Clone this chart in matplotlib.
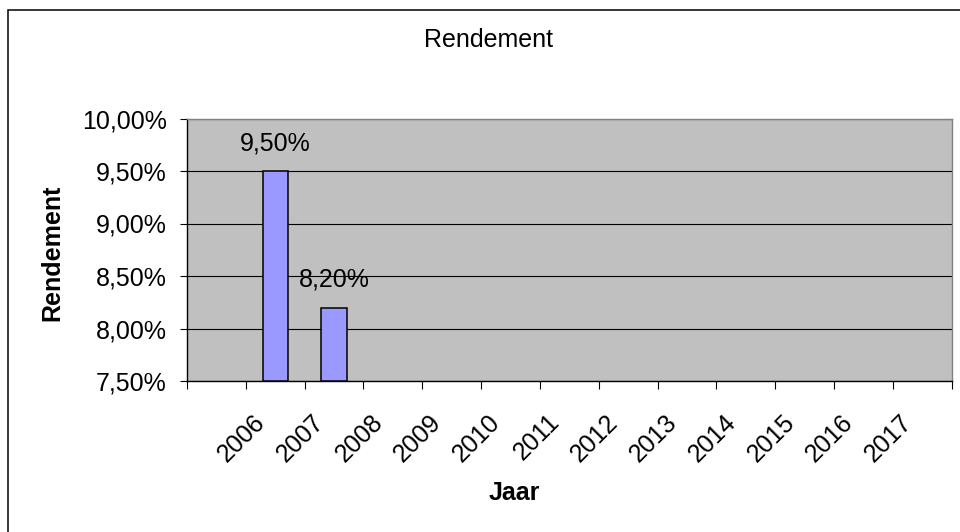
import matplotlib
matplotlib.use('Agg')
import matplotlib.pyplot as plt
import matplotlib.transforms as mtransforms
from matplotlib.patches import Rectangle
import numpy as np

# categories (first one is an empty category in the source sheet)
JAREN = ['', '2006', '2007', '2008', '2009', '2010', '2011', '2012',
         '2013', '2014', '2015', '2016', '2017']
RENDEMENT = [np.nan, 9.50, 8.20, np.nan, np.nan, np.nan, np.nan, np.nan,
             np.nan, np.nan, np.nan, np.nan, np.nan]
Y_TICKS = [7.5, 8.0, 8.5, 9.0, 9.5, 10.0]

plt.rcParams['font.family'] = ['Liberation Sans', 'DejaVu Sans']
FS = 18


def pct(v):
    return ('%.2f%%' % v).replace('.', ',')


fig = plt.figure(figsize=(9.6, 5.32), dpi=100, facecolor='white')
ax = fig.add_axes([187 / 960, 1 - 381 / 532, (951.7 - 187) / 960, (381 - 118.5) / 532])
ax.set_facecolor('#C0C0C0')

x = np.arange(len(JAREN))
vals = np.array(RENDEMENT, dtype=float)
mask = ~np.isnan(vals)
ax.bar(x[mask], vals[mask] - 7.5, bottom=7.5, width=0.43, color='#9999FF',
       edgecolor='black', linewidth=1.1, zorder=3)

# data labels
for xi, v in zip(x[mask], vals[mask]):
    ax.annotate(pct(v), (xi, v), xytext=(0, 20), textcoords='offset points',
                ha='center', va='center', fontsize=FS, zorder=4)

ax.set_xlim(-0.5, len(JAREN) - 0.5)
ax.set_ylim(7.5, 10.0)
ax.set_yticks(Y_TICKS)
ax.set_yticklabels([pct(v) for v in Y_TICKS], fontsize=FS)
ax.yaxis.grid(True, color='black', linewidth=0.8, zorder=1)
ax.set_axisbelow(True)
ax.tick_params(axis='y', direction='out', length=5, width=0.8, pad=9.5)

# tick marks between categories, labels at category centers
ax.set_xticks(np.arange(-0.5, len(JAREN)), minor=True)
ax.set_xticks(x)
ax.set_xticklabels(JAREN, fontsize=FS, rotation=45, ha='right', va='center',
                   rotation_mode='anchor')
ax.tick_params(axis='x', which='major', length=0, pad=27)
ax.tick_params(axis='x', which='minor', direction='out', length=6, width=0.8)
shift = mtransforms.ScaledTranslation(-14 / 100, 0, fig.dpi_scale_trans)
for lab in ax.get_xticklabels():
    lab.set_transform(lab.get_transform() + shift)

ax.spines['left'].set_color('black')
ax.spines['bottom'].set_color('black')
ax.spines['top'].set_color('#808080')
ax.spines['right'].set_color('#808080')
for s in ax.spines.values():
    s.set_linewidth(1.0)

fig.text(489 / 960, 1 - 40 / 532, 'Rendement', ha='center', va='center', fontsize=FS)
fig.text(52 / 960, 1 - 253 / 532, 'Rendement', ha='center', va='center',
         rotation=90, fontsize=FS, fontweight='bold')
fig.text(514 / 960, 1 - 493 / 532, 'Jaar', ha='center', va='center',
         fontsize=FS, fontweight='bold')

# chart area border (right and bottom run off the image)
fig.add_artist(Rectangle((7.5 / 960, -0.1), 1.2, 1.1 - 9.5 / 532,
                         transform=fig.transFigure, fill=False,
                         edgecolor='black', linewidth=1.1))

fig.savefig('out.png', dpi=100, facecolor='white')
